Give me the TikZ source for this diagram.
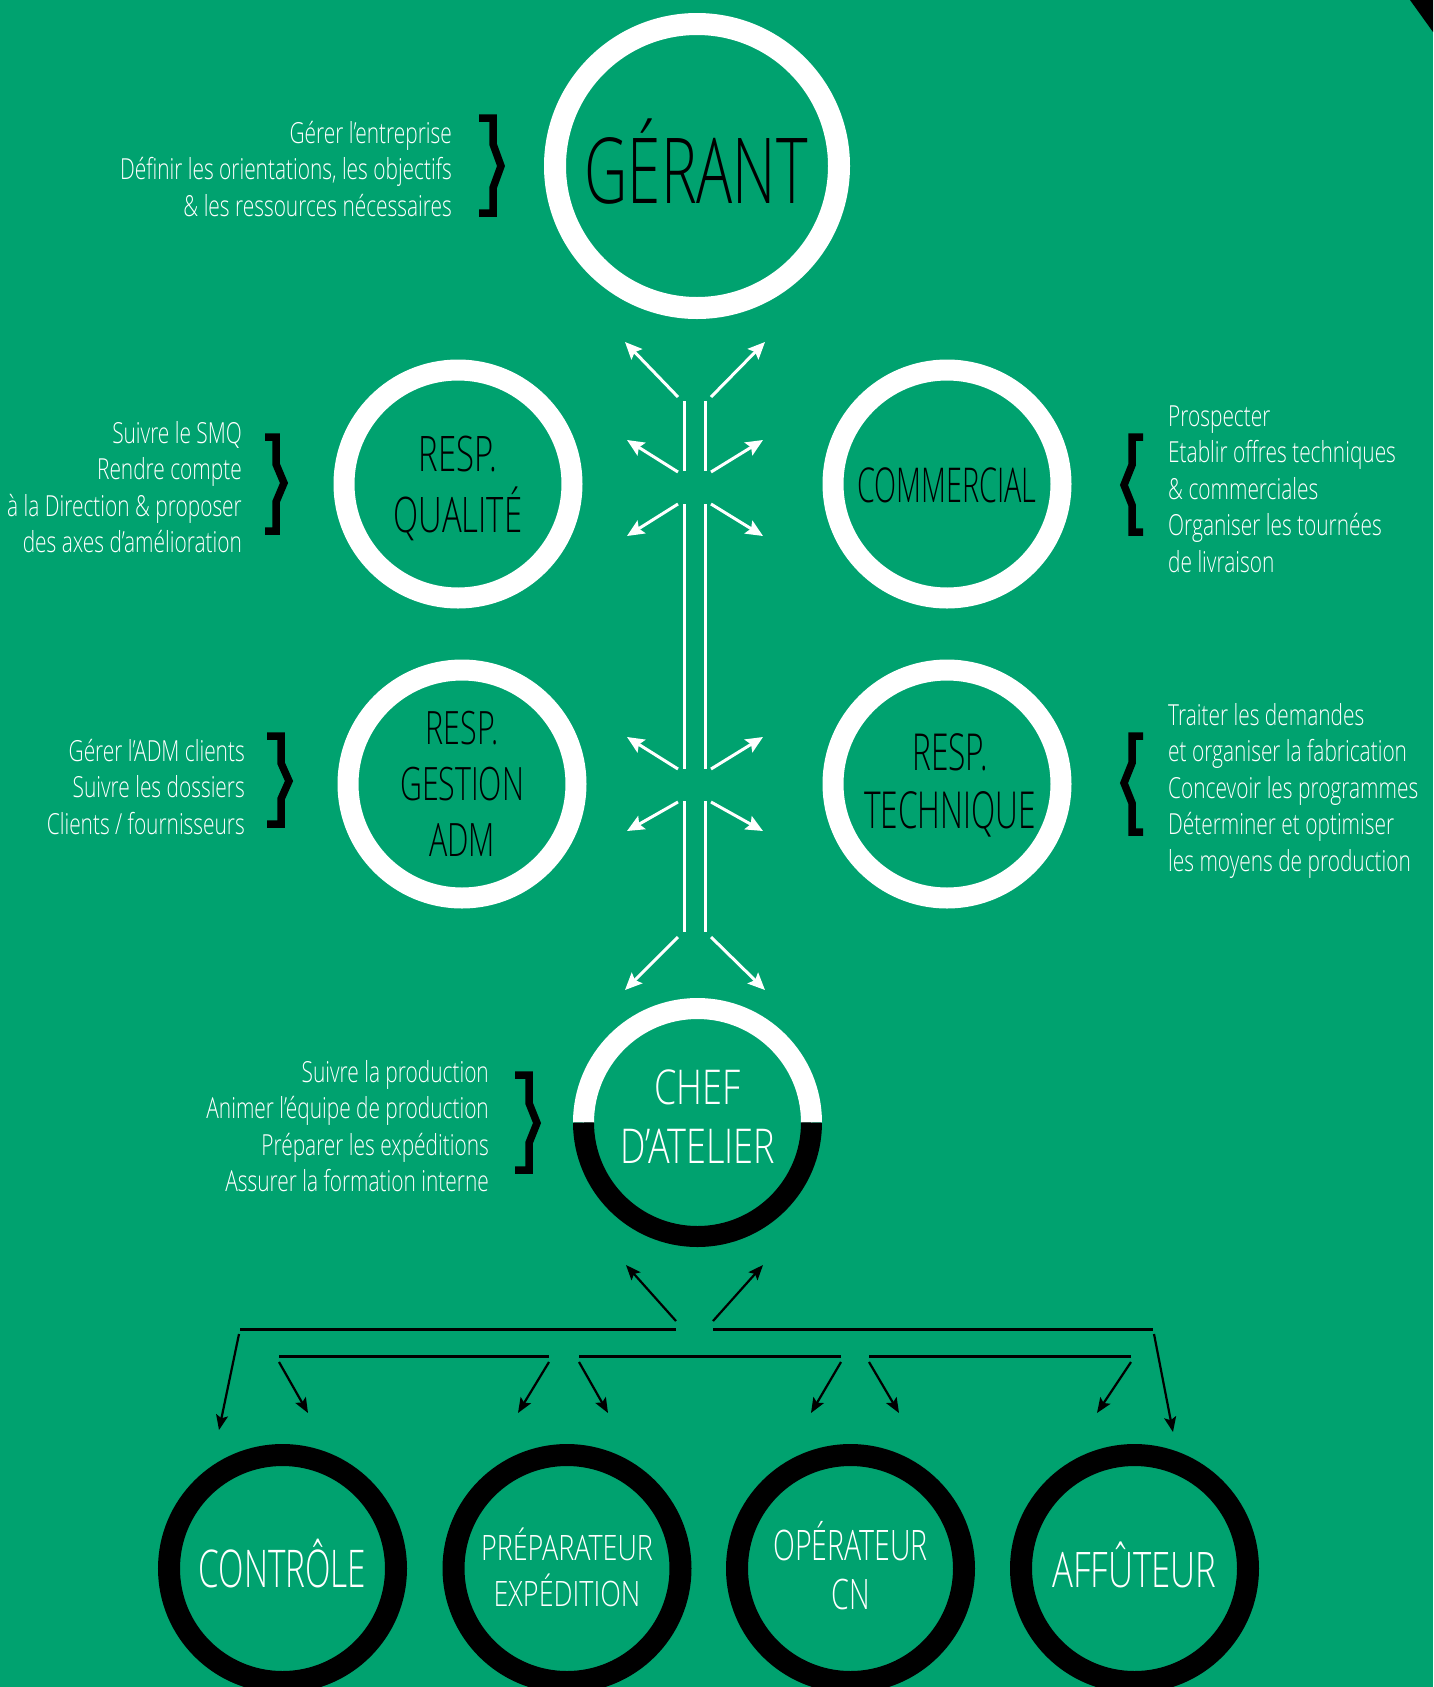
\documentclass[tikz,border=0pt]{standalone}
\usepackage{fontspec}
\IfFontExistsTF{Open Sans Light}{\def\basefontname{Open Sans Light}}{\def\basefontname{Open Sans}}
\newfontfamily\descfont{\basefontname}[FakeStretch=0.72]
\newcommand\tfs[1]{\fontspec{\basefontname}[FakeStretch=#1]}
\usetikzlibrary{arrows.meta}
\definecolor{bg}{RGB}{0,162,111}
\tikzset{
  wline/.style={white, line width=3pt},
  warr/.style={white, line width=3pt, -{Stealth[length=17pt,width=15pt,inset=3pt]}},
  bline/.style={black, line width=3pt},
  barr/.style={black, line width=2.2pt, -{Stealth[length=15pt,width=12pt,inset=3pt]}},
  ringW/.style={circle, draw=white, line width=21pt, minimum size=228pt, inner sep=0pt},
  ringB/.style={circle, draw=black, line width=22pt, minimum size=227pt, inner sep=0pt},
  bracebar/.style={black, line width=7.5pt, line join=miter, line cap=butt},
  ttl/.style={anchor=base, inner sep=0pt},
  desc/.style={inner sep=0pt, text=white, font=\descfont\fontsize{29}{36.5}\selectfont},
}
\begin{document}
\begin{tikzpicture}[x=1pt,y=-1pt]
\useasboundingbox (0,0) rectangle (1433,1687);
\fill[bg] (0,0) rectangle (1433,1687);
\clip (0,0) rectangle (1433,1687);
\fill[black] (1410,0) -- (1433,0) -- (1433,32) -- cycle;

% ---- circles ----
\node[ringW, minimum size=284pt, line width=22pt] (gerant) at (697,166) {};
\node[ringW] (qualite) at (458,484) {};
\node[ringW] (commercial) at (947,484) {};
\node[ringW] (gestion) at (462,784) {};
\node[ringW] (technique) at (947,784) {};
\node[circle, minimum size=228pt, inner sep=0pt] (chef) at (697.5,1122.5) {};
\draw[white, line width=21pt] (chef.center) ++(114pt,0pt) arc[start angle=0, end angle=180, radius=114pt];
\draw[black, line width=21pt] (chef.center) ++(-114pt,0pt) arc[start angle=180, end angle=360, radius=114pt];
\node[ringB] (controle) at (282.5,1568.5) {};
\node[ringB] (preparateur) at (567,1568.5) {};
\node[ringB] (operateur) at (850.5,1568.5) {};
\node[ringB] (affuteur) at (1134.5,1568.5) {};

% ---- titles ----
\node[ttl, text=black, font=\tfs{0.66}\fontsize{91}{91}\selectfont] (gerantT) at (696,203) {GÉRANT};
\node[ttl, text=black, font=\tfs{0.67}\fontsize{49}{54}\selectfont] (qualiteT) at (458,471) {\begin{tabular}[t]{@{}c@{}}RESP.\\QUALITÉ\end{tabular}};
\node[ttl, text=black, font=\tfs{0.60}\fontsize{48}{54}\selectfont] (commercialT) at (947,502) {COMMERCIAL};
\node[ttl, text=black, font=\tfs{0.66}\fontsize{46}{56}\selectfont] (gestionT) at (462,744) {\begin{tabular}[t]{@{}c@{}}RESP.\\GESTION\\ADM\end{tabular}};
\node[ttl, text=black, font=\tfs{0.62}\fontsize{51}{58}\selectfont] (techniqueT) at (950,770) {\begin{tabular}[t]{@{}c@{}}RESP.\\TECHNIQUE\end{tabular}};
\node[ttl, text=white, font=\tfs{0.75}\fontsize{48}{59}\selectfont] (chefT) at (697.5,1104) {\begin{tabular}[t]{@{}c@{}}CHEF\\D’ATELIER\end{tabular}};
\node[ttl, text=white, font=\tfs{0.64}\fontsize{52}{52}\selectfont] (controleT) at (282.5,1587) {CONTRÔLE};
\node[ttl, text=white, font=\tfs{0.77}\fontsize{35}{45}\selectfont] (preparateurT) at (567,1560) {\begin{tabular}[t]{@{}c@{}}PRÉPARATEUR\\EXPÉDITION\end{tabular}};
\node[ttl, text=white, font=\tfs{0.68}\fontsize{42}{49}\selectfont] (operateurT) at (850.5,1560) {\begin{tabular}[t]{@{}c@{}}OPÉRATEUR\\CN\end{tabular}};
\node[ttl, text=white, font=\tfs{0.71}\fontsize{49}{49}\selectfont] (affuteurT) at (1134.5,1587) {AFFÛTEUR};

% ---- descriptions ----
\node[desc, anchor=base east] (gerantD) at (452,143) {\begin{tabular}[t]{@{}r@{}}Gérer l’entreprise\\Définir les orientations, les objectifs\\\& les ressources nécessaires\end{tabular}};
\node[desc, anchor=base east] (qualiteD) at (242,443) {\begin{tabular}[t]{@{}r@{}}Suivre le SMQ\\Rendre compte\\à la Direction \& proposer\\des axes d’amélioration\end{tabular}};
\node[desc, anchor=base west] (commercialD) at (1168,426) {\begin{tabular}[t]{@{}l@{}}Prospecter\\Etablir offres techniques\\\& commerciales\\Organiser les tournées\\de livraison\end{tabular}};
\node[desc, anchor=base east] (gestionD) at (245,761) {\begin{tabular}[t]{@{}r@{}}Gérer l’ADM clients\\Suivre les dossiers\\Clients / fournisseurs\end{tabular}};
\node[desc, anchor=base west] (techniqueD) at (1168,725) {\begin{tabular}[t]{@{}l@{}}Traiter les demandes\\et organiser la fabrication\\Concevoir les programmes\\Déterminer et optimiser\\les moyens de production\end{tabular}};
\node[desc, anchor=base east] (chefD) at (489,1082) {\begin{tabular}[t]{@{}r@{}}Suivre la production\\Animer l’équipe de production\\Préparer les expéditions\\Assurer la formation interne\end{tabular}};

% ---- brackets ----
\draw[bracebar] (479,118) -- (493,118) -- (493,144) -- (501,166) -- (493,188) -- (493,213) -- (479,213);
\draw[bracebar] (265,437) -- (276,437) -- (276,464) -- (284,483) -- (276,502) -- (276,531) -- (265,531);
\draw[bracebar] (267,736) -- (281,736) -- (281,763) -- (289,781) -- (281,799) -- (281,824) -- (267,824);
\draw[bracebar] (515,1075) -- (529,1075) -- (529,1103) -- (537,1123) -- (529,1143) -- (529,1170) -- (515,1170);
\draw[bracebar] (1143,437) -- (1132,437) -- (1132,465) -- (1124,485) -- (1132,505) -- (1132,532) -- (1143,532);
\draw[bracebar] (1143,736) -- (1132,736) -- (1132,763) -- (1124,783) -- (1132,803) -- (1132,832) -- (1143,832);

% ---- white trunk ----
\foreach \n/\ya/\yb in {1/401/471, 2/504/769, 3/801/932}{
  \coordinate (vl\n a) at (684,\ya); \coordinate (vl\n b) at (684,\yb);
  \coordinate (vr\n a) at (705,\ya); \coordinate (vr\n b) at (705,\yb);
  \draw[wline] (vl\n a) -- (vl\n b);
  \draw[wline] (vr\n a) -- (vr\n b);
}
\foreach \n/\sx/\sy/\tx/\ty in {
  1/678/397/625/342, 2/711/397/765/342,
  3/678/472/627/440, 4/711/472/763/440,
  5/678/504/627/536, 6/711/504/763/536,
  7/678/769/627/737, 8/711/769/763/737,
  9/678/802/627/831, 10/711/802/763/831,
  11/678/937/625/990, 12/711/937/765/990}{
  \coordinate (ws\n) at (\sx,\sy); \coordinate (wt\n) at (\tx,\ty);
  \draw[warr] (ws\n) -- (wt\n);
}

% ---- black distribution ----
\foreach \n/\sx/\sy/\tx/\ty in {1/676/1321/626/1265, 2/713/1321/763/1265}{
  \coordinate (us\n) at (\sx,\sy); \coordinate (ut\n) at (\tx,\ty);
  \draw[barr] (us\n) -- (ut\n);
}
\foreach \n/\xa/\xb/\y in {1/240/676/1329, 2/713/1153/1329, 3/279/549/1356, 4/579/841/1356, 5/869/1131/1356}{
  \coordinate (h\n a) at (\xa,\y); \coordinate (h\n b) at (\xb,\y);
  \draw[bline] (h\n a) -- (h\n b);
}
\foreach \n/\sx/\sy/\tx/\ty in {
  1/239/1334/219/1430, 2/1154/1334/1173/1432,
  3/279/1362/308/1413, 4/549/1362/518/1413,
  5/579/1362/608/1413, 6/841/1362/811/1413,
  7/869/1362/899/1413, 8/1131/1362/1097/1413}{
  \coordinate (ds\n) at (\sx,\sy); \coordinate (dt\n) at (\tx,\ty);
  \draw[barr] (ds\n) -- (dt\n);
}
\end{tikzpicture}
\end{document}
